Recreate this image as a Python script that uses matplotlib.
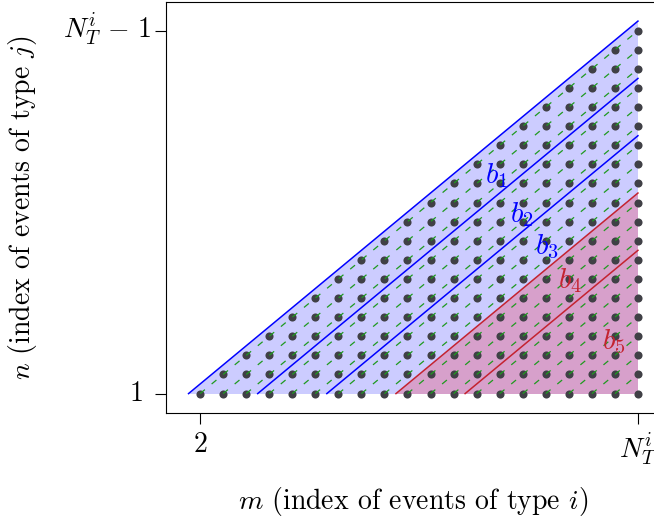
"""
Triangular index grid (m, n) with boundary lines b_1..b_5.
"""

import matplotlib
matplotlib.use("Agg")
import matplotlib.pyplot as plt
from matplotlib import transforms
import numpy as np

plt.rcParams.update({
    'font.family': 'serif',
    'font.serif': ['cmr10', 'DejaVu Serif'],
    'mathtext.fontset': 'cm',
    'axes.formatter.use_mathtext': True,
    'axes.unicode_minus': False,
})

# grid columns: m index and how many n values each column holds (n = 1..height)
m_values = [2, 3, 4, 5, 6, 7, 8, 9, 10, 11, 12, 13, 14, 15, 16, 17, 18, 19, 20, 21]
col_heights = [1, 2, 3, 4, 5, 6, 7, 8, 9, 10, 11, 12, 13, 14, 15, 16, 17, 18, 19, 20]

# boundary lines n = m - offset, from n = 1 up to m = N_T
b_offsets = [0.5, 3.5, 6.5, 9.5, 12.5]
b_names = [r'$b_1$', r'$b_2$', r'$b_3$', r'$b_4$', r'$b_5$']
b_label_m = [14.85, 15.95, 17.05, 18.05, 19.95]
b_label_n = [12.4, 10.4, 8.7, 6.9, 3.7]

x_ticks = [2, 21]
x_ticklabels = ['2', r'$N_T^i$']
y_ticks = [1, 20]
y_ticklabels = ['1', r'$N_T^i\,-\,1$']

BLUE = '#0000ff'
RED = '#c42330'
N_T = m_values[-1]
FS = 20

fig = plt.figure(figsize=(6.54, 5.18), dpi=100)
ax = fig.add_axes([165.5 / 654, 105.3 / 518, 495.5 / 654, 410.7 / 518])
ax.set_xlim(0.5, 22)
ax.set_ylim(0, 21.5)

# shaded regions
first = b_offsets[0]
ax.fill([1 + first, N_T, N_T], [1, 1, N_T - first], color='#ccccff', lw=0, zorder=1)
red_off = b_offsets[3]
ax.fill([1 + red_off, N_T, N_T], [1, 1, N_T - red_off], color='#d7a0cb', lw=0, zorder=1)

# points
pts_m, pts_n = [], []
for m, h in zip(m_values, col_heights):
    for n in range(1, h + 1):
        pts_m.append(m)
        pts_n.append(n)
ax.scatter(pts_m, pts_n, s=34, color='#404046', lw=0, zorder=3)

# green dashed diagonals through the points
for m0 in m_values[:-1]:
    ax.plot([m0, N_T], [1, N_T - m0 + 1], color='#1f9a1f', lw=0.9,
            dashes=(5, 7), zorder=4)

# boundary lines and labels
for i, off in enumerate(b_offsets):
    c = BLUE if i < 3 else RED
    ax.plot([1 + off, N_T], [1, N_T - off], color=c, lw=1.1, zorder=2)
    ax.text(b_label_m[i], b_label_n[i], b_names[i], color=c, fontsize=21,
            ha='center', va='center', zorder=5)

ax.set_xticks(x_ticks)
ax.set_xticklabels(x_ticklabels, fontsize=FS)
ax.set_yticks(y_ticks)
ax.set_yticklabels(['', ''])
ax.tick_params(direction='out', length=7.7, width=0.8, pad=6)
trans = transforms.blended_transform_factory(ax.transAxes, ax.transData)
ax.text(-0.045, y_ticks[0], y_ticklabels[0], transform=trans, fontsize=FS,
        ha='right', va='center')
ax.text(-0.027, y_ticks[1], y_ticklabels[1], transform=trans, fontsize=FS,
        ha='right', va='center')

for s in ax.spines.values():
    s.set_linewidth(0.8)

ax.set_xlabel(r'$m$ (index of events of type $i$)', fontsize=FS)
ax.set_ylabel(r'$n$ (index of events of type $j$)', fontsize=FS)
ax.xaxis.set_label_coords(0.5, -0.175)
ax.yaxis.set_label_coords(-0.255, 0.5)

plt.savefig('out.png', dpi=100)
